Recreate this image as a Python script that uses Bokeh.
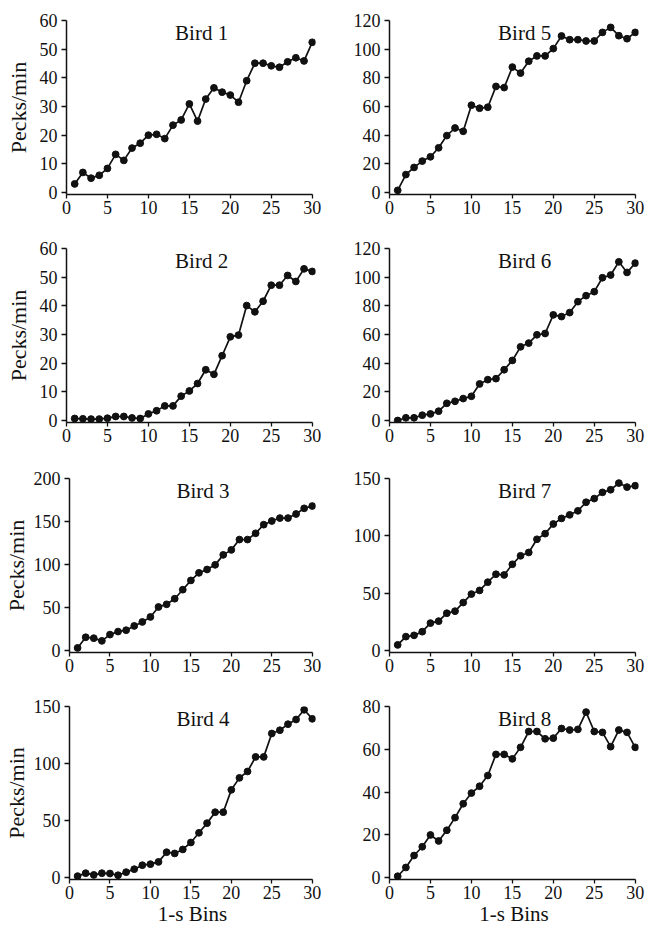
from bokeh.plotting import figure
from bokeh.layouts import column, row
from bokeh.models import Range1d, FixedTicker, Label
from bokeh.embed import file_html
from bokeh.resources import INLINE

bins = list(range(1, 31))

bird1 = [3, 7, 5, 6, 8.4, 13.3, 11.2, 15.5, 17.2, 20, 20.3, 18.8, 23.5, 25.3, 30.9,
         24.9, 32.6, 36.5, 35, 34, 31.5, 39, 45.1, 45.1, 44.2, 43.7, 45.6, 47, 45.9, 52.4]
bird2 = [0.7, 0.6, 0.5, 0.5, 0.8, 1.4, 1.4, 0.9, 0.7, 2.3, 3.4, 5.1, 5.1, 8.5, 10.3,
         12.9, 17.7, 16.1, 22.6, 29.2, 29.8, 40.1, 37.9, 41.6, 47.2, 47.2, 50.6, 48.5, 52.9, 52]
bird3 = [3, 15.4, 14.3, 11.2, 18.5, 22, 23.6, 28.6, 33.2, 39, 50.6, 53.7, 60.2, 70.7, 81.5,
         90.3, 94.2, 99.6, 111.2, 117, 129, 129, 136.3, 146.3, 150.6, 154, 154, 158.7, 165.3, 168]
bird4 = [1.2, 3.8, 2.3, 3.8, 3.5, 2, 4.7, 7.3, 10.8, 11.7, 13.7, 22.2, 21.1, 24.6, 30.7,
         39.2, 47.7, 57.3, 57.3, 76.9, 87.4, 93, 105.8, 105.8, 126.3, 129.2, 134.5, 138.6, 147.1, 139.2]
bird5 = [1.5, 12.5, 17.5, 21.9, 24.9, 31.2, 39.7, 45, 42.7, 60.9, 58.8, 59.5, 74, 73.2, 87.5,
         83.3, 91.6, 95.3, 95.3, 100.4, 109.2, 106.6, 106.6, 105.7, 105.7, 111.7, 115.2, 109.4, 107.3, 111.7]
bird6 = [0, 1.9, 1.9, 3.7, 4.6, 6.5, 12, 13.4, 15.3, 16.9, 25.5, 28.5, 29.2, 35.4, 41.9,
         51.4, 54, 59.8, 60.7, 73.7, 72.5, 75.3, 82.9, 87.1, 89.9, 99.6, 101.5, 110.7, 103.3, 109.8]
bird7 = [4.9, 12.1, 13.2, 16.4, 23.9, 25.6, 32.5, 34.3, 41.8, 49.2, 52.4, 59.6, 66.5, 65.9, 75.2,
         82.6, 85.5, 97, 101.9, 110.3, 115.2, 118.3, 121.8, 129.3, 132.5, 137.9, 140.2, 146, 142.5, 143.7]
bird8 = [0.6, 4.7, 10.3, 14.4, 19.9, 17.1, 22.1, 28, 34.5, 39.5, 42.7, 47.7, 57.6, 57.6, 55.5,
         60.9, 68.3, 68.3, 64.9, 65.2, 69.7, 69, 69.3, 77.4, 68.3, 67.9, 61.2, 69, 67.9, 60.9]

x_ticks = [0, 5, 10, 15, 20, 25, 30]
y_ticks_60 = [0, 10, 20, 30, 40, 50, 60]
y_ticks_120 = [0, 20, 40, 60, 80, 100, 120]
y_ticks_200 = [0, 50, 100, 150, 200]
y_ticks_150 = [0, 50, 100, 150]
y_ticks_80 = [0, 20, 40, 60, 80]

titles = ["Bird 1", "Bird 2", "Bird 3", "Bird 4", "Bird 5", "Bird 6", "Bird 7", "Bird 8"]
x_label = "1-s Bins"
y_label = "Pecks/min"

SERIF = "Liberation Serif"
INK = "#111111"
ROW_BOTTOM = [34, 36, 34, 48]


def make(title, values, yticks, left, r):
    ymax = yticks[-1]
    bottom = r == 3
    h = 20 + 174 + ROW_BOTTOM[r]
    w = 330 if left else 320
    p = figure(width=w, height=h, output_backend="svg", toolbar_location=None,
               x_range=Range1d(0, 30.4), y_range=Range1d(-ymax * 2 / 172, ymax),
               min_border_left=66 if left else 59,
               min_border_right=15 if left else 12,
               min_border_top=20, min_border_bottom=ROW_BOTTOM[r])
    p.outline_line_color = None
    p.grid.visible = False
    p.background_fill_color = "white"
    p.border_fill_color = "white"

    p.line(bins, values, line_width=1.7, line_color=INK)
    p.scatter(bins, values, size=6.8, fill_color=INK, line_color=INK)

    xa = p.xaxis[0]
    xa.ticker = FixedTicker(ticks=x_ticks)
    xa.bounds = (0, 30)
    ya = p.yaxis[0]
    ya.ticker = FixedTicker(ticks=yticks)
    for ax in (xa, ya):
        ax.axis_line_width = 1.5
        ax.axis_line_color = INK
        ax.major_tick_line_color = INK
        ax.major_tick_line_width = 1.3
        ax.major_tick_in = 0
        ax.minor_tick_line_color = None
        ax.major_label_text_font = SERIF
        ax.major_label_text_font_size = "18px"
        ax.major_label_text_color = INK
        ax.axis_label_text_font = SERIF
        ax.axis_label_text_font_style = "normal"
        ax.axis_label_text_color = INK
    xa.major_tick_out = 4
    xa.major_label_standoff = 2
    ya.major_tick_out = 5
    ya.major_label_standoff = 4
    if bottom:
        xa.axis_label = x_label
        xa.axis_label_text_font_size = "21px"
        xa.axis_label_standoff = 0
    if left:
        ya.axis_label = y_label
        ya.axis_label_text_font_size = "22px"
        ya.axis_label_standoff = 6 if ymax < 100 else 2

    p.add_layout(Label(x=16.5, y=ymax, text=title, text_align="center",
                       text_baseline="top", text_font=SERIF, text_font_size="21px",
                       text_color=INK))
    return p


f1 = make(titles[0], bird1, y_ticks_60, True, 0)
f2 = make(titles[1], bird2, y_ticks_60, True, 1)
f3 = make(titles[2], bird3, y_ticks_200, True, 2)
f4 = make(titles[3], bird4, y_ticks_150, True, 3)
f5 = make(titles[4], bird5, y_ticks_120, False, 0)
f6 = make(titles[5], bird6, y_ticks_120, False, 1)
f7 = make(titles[6], bird7, y_ticks_150, False, 2)
f8 = make(titles[7], bird8, y_ticks_80, False, 3)

layout = column(row(f1, f5), row(f2, f6), row(f3, f7), row(f4, f8))

open("out.html", "w").write(file_html(layout, INLINE))
